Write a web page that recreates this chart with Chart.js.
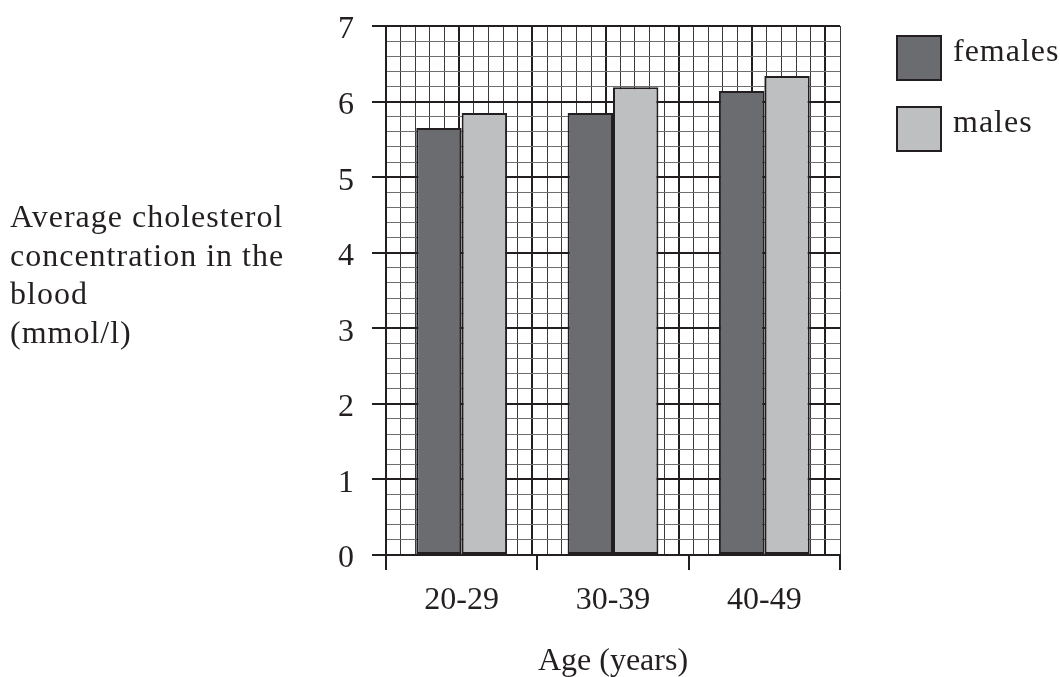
<!DOCTYPE html>
<html>
<head>
<meta charset="utf-8">
<script src="https://cdn.jsdelivr.net/npm/chart.js@4.4.1/dist/chart.umd.min.js"></script>
<style>
html, body { margin: 0; padding: 0; background: #fff; }
#wrap { width: 1060px; height: 677px; }
</style>
</head>
<body>
<div id="wrap"><canvas id="barChart" width="1060" height="677"></canvas></div>
<script>
// chart data
const ageGroups = ['20-29', '30-39', '40-49'];
const females = [5.65, 5.85, 6.14];
const males = [5.85, 6.19, 6.34];
const yTickLabels = ['0', '1', '2', '3', '4', '5', '6', '7'];
const yTitleLines = ['Average cholesterol', 'concentration in the', 'blood', '(mmol/l)'];
const xTitle = 'Age (years)';

const ink = '#231f20';
const serif = '"Liberation Serif", "Times New Roman", serif';

const isWhole = (v) => Math.abs(v - Math.round(v)) < 1e-6;

// left hand title + legend boxes, drawn by hand
const sideText = {
    id: 'sideText',
    afterDraw(chart) {
        const ctx = chart.ctx;
        ctx.save();
        ctx.font = '32px ' + serif;
        ctx.letterSpacing = '1px';
        ctx.textBaseline = 'alphabetic';
        ctx.textAlign = 'left';
        ctx.fillStyle = ink;
        yTitleLines.forEach((line, i) => {
            ctx.fillText(line, 10, 227 + i * 38.5);
        });
        chart.data.datasets.forEach((ds, i) => {
            const top = 36 + i * 71;
            ctx.fillStyle = ds.backgroundColor;
            ctx.fillRect(897, top, 44, 44);
            ctx.strokeStyle = ink;
            ctx.lineWidth = 2;
            ctx.strokeRect(897, top, 44, 44);
            ctx.fillStyle = ink;
            ctx.fillText(ds.label, 953, top + 25);
        });
        ctx.restore();
    }
};

const ctxBar = document.getElementById('barChart');
new Chart(ctxBar, {
    type: 'bar',
    data: {
        labels: ageGroups,
        datasets: [
            {
                label: 'females',
                data: females,
                backgroundColor: '#6b6c70',
                borderColor: ink,
                borderWidth: 2,
                borderSkipped: false
            },
            {
                label: 'males',
                data: males,
                backgroundColor: '#bebfc1',
                borderColor: ink,
                borderWidth: 2,
                borderSkipped: false
            }
        ]
    },
    options: {
        responsive: false,
        devicePixelRatio: 1,
        animation: false,
        layout: { padding: { left: 306, right: 220, top: 26, bottom: 0 } },
        datasets: { bar: { categoryPercentage: 0.6, barPercentage: 1.0 } },
        plugins: {
            legend: { display: false },
            tooltip: { enabled: false }
        },
        scales: {
            x: {
                type: 'category',
                position: 'bottom',
                afterFit: (s) => { s.height = 122; s.paddingLeft = 0; s.paddingRight = 0; },
                grid: {
                    offset: true,
                    drawOnChartArea: false,
                    color: ink,
                    lineWidth: 2,
                    tickLength: 15
                },
                border: { display: true, color: ink, width: 2 },
                ticks: {
                    color: ink,
                    font: { family: serif, size: 32 },
                    padding: 11,
                    maxRotation: 0
                },
                title: {
                    display: true,
                    text: xTitle,
                    color: ink,
                    font: { family: serif, size: 32 },
                    padding: { top: 0, bottom: -4 }
                }
            },
            x2: {
                type: 'linear',
                position: 'top',
                min: 0,
                max: 30,
                afterFit: (s) => { s.height = 0; s.paddingLeft = 0; s.paddingRight = 0; },
                grid: {
                    drawTicks: false,
                    color: (c) => (c.tick && c.tick.value % 5 === 0) ? ink : '#3a3a3a',
                    lineWidth: (c) => (c.tick && c.tick.value % 5 === 0) ? 2 : 1
                },
                border: { display: false },
                ticks: { display: false, stepSize: 1, autoSkip: false }
            },
            y: {
                type: 'linear',
                position: 'left',
                min: 0,
                max: 7,
                afterFit: (s) => { s.width = 80; s.paddingTop = 0; s.paddingBottom = 0; },
                grid: {
                    color: (c) => (c.tick && isWhole(c.tick.value)) ? ink : '#6e6e6e',
                    lineWidth: (c) => (c.tick && isWhole(c.tick.value)) ? 2 : 1,
                    tickColor: (c) => (c.tick && isWhole(c.tick.value)) ? ink : 'rgba(0,0,0,0)',
                    tickLength: 14
                },
                border: { display: true, color: ink, width: 2 },
                ticks: {
                    stepSize: 0.2,
                    autoSkip: false,
                    color: ink,
                    padding: 18,
                    labelOffset: 4,
                    font: { family: serif, size: 32 },
                    callback: (v) => isWhole(v) ? yTickLabels[Math.round(v)] : ''
                }
            }
        }
    },
    plugins: [sideText]
});
</script>
</body>
</html>
